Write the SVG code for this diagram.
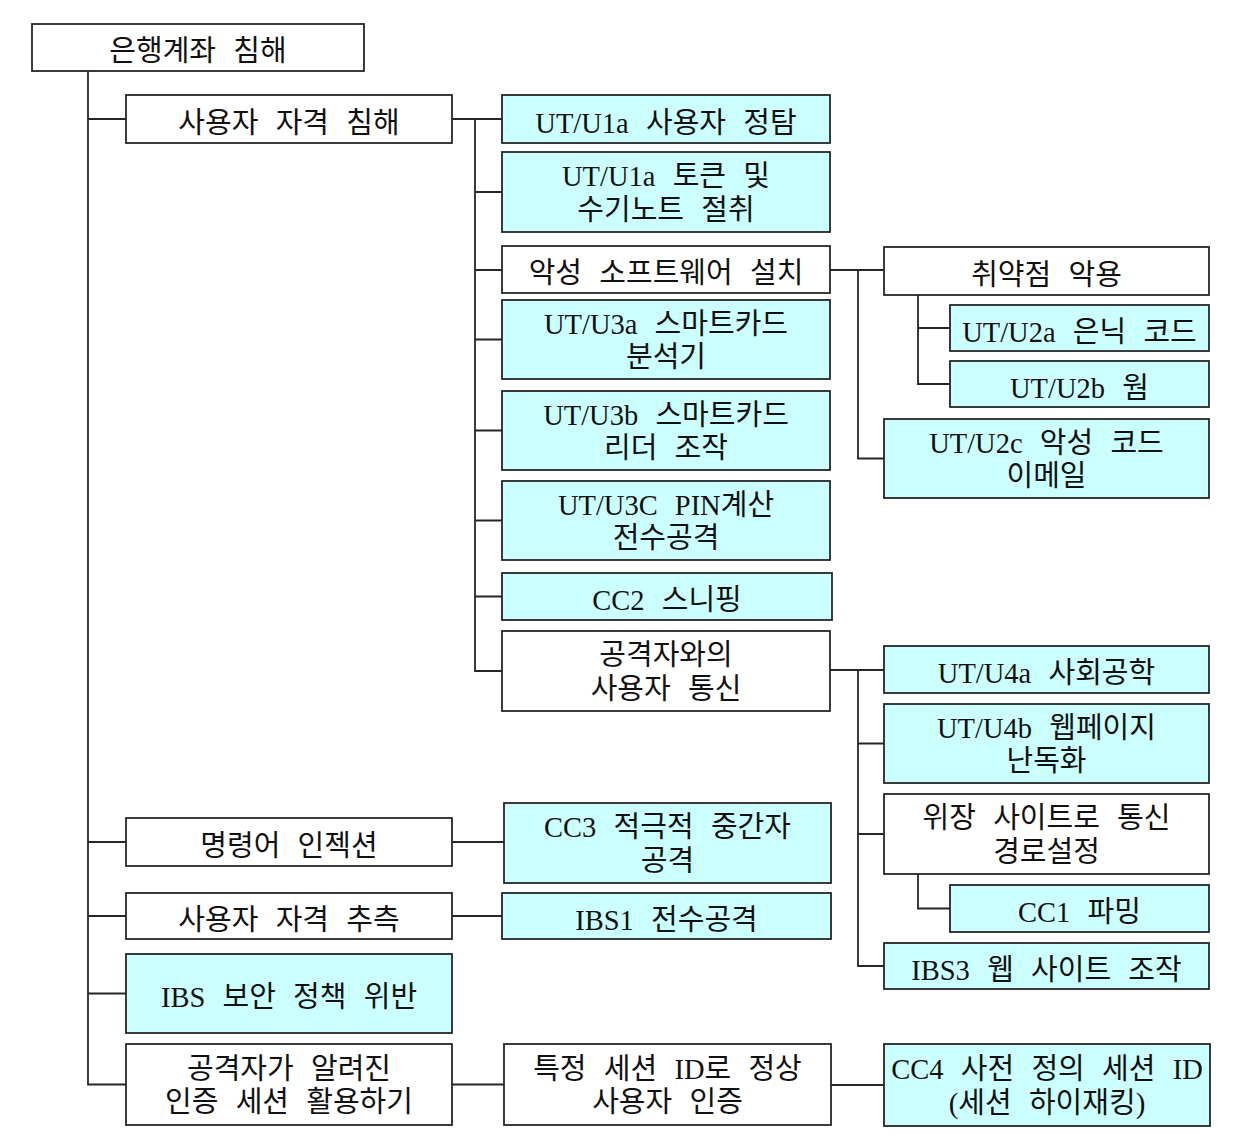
<svg xmlns="http://www.w3.org/2000/svg" width="1256" height="1140" viewBox="0 0 1256 1140">
<style>
.b{fill:#ffffff;stroke:#262626;stroke-width:1.8}
.c{fill:#ccffff;stroke:#262626;stroke-width:1.8}
.t{font-family:"Liberation Serif","Noto Sans CJK KR",serif;font-size:29px;fill:#111111;text-anchor:middle;word-spacing:10px}
.l{font-size:28.5px}
.k{fill:none;stroke:#262626;stroke-width:1.8}
</style>
<rect width="1256" height="1140" fill="#ffffff"/>
<g id="connectors" class="k">
<path d="M88 71V1084.5H126M88 119H126M88 842H126M88 916H126M88 993.5H126"/>
<path d="M452 119H502M475 119V671H502M475 192H502M475 270H502M475 339.5H502M475 430.5H502M475 520.5H502M475 596.5H502"/>
<path d="M452 842H504M452 916H502M452 1084.5H504"/>
<path d="M830 270H884M858 270V458.5H884M918 295V384H950M918 328H950"/>
<path d="M830 670H884M858 670V966H884M858 743.5H884M858 834H884M918 874V908.5H950"/>
<path d="M831 1085H884"/>
</g>
<g id="n-root"><rect class="b" x="32" y="24" width="332" height="47"/><text class="t" x="198" y="60.5">은행계좌 침해</text></g>
<g id="n-a1"><rect class="b" x="126" y="95" width="326" height="48"/><text class="t" x="289" y="132.5">사용자 자격 침해</text></g>
<g id="n-a2"><rect class="b" x="126" y="818" width="326" height="48"/><text class="t" x="289" y="855.5">명령어 인젝션</text></g>
<g id="n-a3"><rect class="b" x="126" y="893" width="326" height="46"/><text class="t" x="289" y="929.5">사용자 자격 추측</text></g>
<g id="n-a4"><rect class="c" x="126" y="954" width="326" height="79"/><text class="t" x="289" y="1007">
<tspan class="l">IBS</tspan> 보안 정책 위반</text></g>
<g id="n-a5"><rect class="b" x="126" y="1044" width="326" height="81"/><text class="t" x="289" y="1078.5">공격자가 알려진</text><text class="t" x="289" y="1112">인증 세션 활용하기</text></g>
<g id="n-b1"><rect class="c" x="502" y="95" width="328" height="48"/><text class="t" x="666" y="132.5"><tspan class="l">UT/U1a</tspan> 사용자 정탐</text></g>
<g id="n-b2"><rect class="c" x="502" y="152" width="328" height="80"/><text class="t" x="666" y="186"><tspan class="l">UT/U1a</tspan> 토큰 및</text><text class="t" x="666" y="219.5">수기노트 절취</text></g>
<g id="n-b3"><rect class="b" x="502" y="246" width="328" height="47"/><text class="t" x="666" y="283">악성 소프트웨어 설치</text></g>
<g id="n-b4"><rect class="c" x="502" y="300" width="328" height="79"/><text class="t" x="666" y="333.5"><tspan class="l">UT/U3a</tspan> 스마트카드</text><text class="t" x="666" y="367">분석기</text></g>
<g id="n-b5"><rect class="c" x="502" y="391" width="328" height="79"/><text class="t" x="666" y="424.5"><tspan class="l">UT/U3b</tspan> 스마트카드</text><text class="t" x="666" y="458">리더 조작</text></g>
<g id="n-b6"><rect class="c" x="502" y="481" width="328" height="79"/><text class="t" x="666" y="514.5"><tspan class="l">UT/U3C PIN</tspan>계산</text><text class="t" x="666" y="548">전수공격</text></g>
<g id="n-b7"><rect class="c" x="502" y="573" width="330" height="47"/><text class="t" x="667" y="610"><tspan class="l">CC2</tspan> 스니핑</text></g>
<g id="n-b8"><rect class="b" x="502" y="631" width="328" height="80"/><text class="t" x="666" y="665">공격자와의</text><text class="t" x="666" y="698.5">사용자 통신</text></g>
<g id="n-b9"><rect class="c" x="504" y="803" width="327" height="80"/><text class="t" x="667.5" y="837"><tspan class="l">CC3</tspan> 적극적 중간자</text><text class="t" x="667.5" y="870.5">공격</text></g>
<g id="n-b10"><rect class="c" x="502" y="893" width="329" height="46"/><text class="t" x="666.5" y="929.5"><tspan class="l">IBS1</tspan> 전수공격</text></g>
<g id="n-b11"><rect class="b" x="504" y="1044" width="327" height="81"/><text class="t" x="667.5" y="1078.5">특정 세션 <tspan class="l">ID</tspan>로 정상</text><text class="t" x="667.5" y="1112">사용자 인증</text></g>
<g id="n-c1"><rect class="b" x="884" y="247" width="325" height="48"/><text class="t" x="1046.5" y="284.5">취약점 악용</text></g>
<g id="n-c2"><rect class="c" x="950" y="305" width="259" height="46"/><text class="t" x="1079.5" y="341.5"><tspan class="l">UT/U2a</tspan> 은닉 코드</text></g>
<g id="n-c3"><rect class="c" x="950" y="361" width="259" height="46"/><text class="t" x="1079.5" y="397.5"><tspan class="l">UT/U2b</tspan> 웜</text></g>
<g id="n-c4"><rect class="c" x="884" y="419" width="325" height="79"/><text class="t" x="1046.5" y="452.5"><tspan class="l">UT/U2c</tspan> 악성 코드</text><text class="t" x="1046.5" y="486">이메일</text></g>
<g id="n-c5"><rect class="c" x="884" y="646" width="325" height="47"/><text class="t" x="1046.5" y="683"><tspan class="l">UT/U4a</tspan> 사회공학</text></g>
<g id="n-c6"><rect class="c" x="884" y="704" width="325" height="79"/><text class="t" x="1046.5" y="737.5"><tspan class="l">UT/U4b</tspan> 웹페이지</text><text class="t" x="1046.5" y="771">난독화</text></g>
<g id="n-c7"><rect class="b" x="884" y="794" width="325" height="80"/><text class="t" x="1046.5" y="828">위장 사이트로 통신</text><text class="t" x="1046.5" y="861.5">경로설정</text></g>
<g id="n-c8"><rect class="c" x="950" y="885" width="259" height="47"/><text class="t" x="1079.5" y="922"><tspan class="l">CC1</tspan> 파밍</text></g>
<g id="n-c9"><rect class="c" x="884" y="943" width="325" height="46"/><text class="t" x="1046.5" y="979.5"><tspan class="l">IBS3</tspan> 웹 사이트 조작</text></g>
<g id="n-c10"><rect class="c" x="884" y="1044" width="326" height="82"/><text class="t" x="1047" y="1079"><tspan class="l">CC4</tspan> 사전 정의 세션 <tspan class="l">ID</tspan></text><text class="t" x="1047" y="1112.5">(세션 하이재킹)</text></g>
</svg>
